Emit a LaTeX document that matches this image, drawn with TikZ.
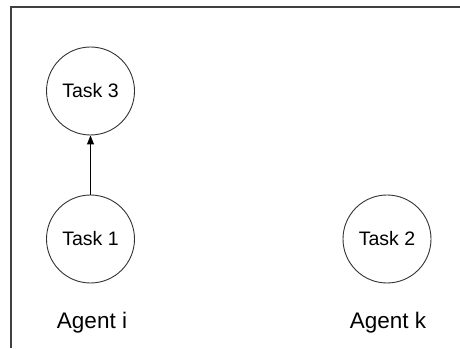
\documentclass[tikz,border=0pt]{standalone}
\usepackage{fontspec}
\setmainfont{Liberation Sans}
\usetikzlibrary{arrows.meta}

\begin{document}
\begin{tikzpicture}[x=1pt,y=1pt,
    task/.style={circle,draw=black!80,line width=0.9pt,minimum size=88pt,inner sep=0pt,font=\fontsize{19.5}{22}\selectfont},
    agent/.style={font=\fontsize{22.5}{26}\selectfont}]
  \useasboundingbox (0,0) rectangle (460,348);
  % Draw frame
  \draw[black!75,line width=1.4pt] (11,0) -- (11,341) -- (460,341);
  % Draw tasks
  \node[task] (t3) at (90.5,257) {Task 3};
  \node[task] (t1) at (90.5,109) {Task 1};
  \node[task] (t2) at (387,109) {Task 2};
  % Draw agents
  \node[agent] (ai) at (92,25) {Agent i};
  \node[agent] (ak) at (388,25) {Agent k};
  % Draw arrow
  \draw[-{Triangle[length=9pt,width=7pt]},line width=0.9pt] (t1) -- (t3);
\end{tikzpicture}
\end{document}
